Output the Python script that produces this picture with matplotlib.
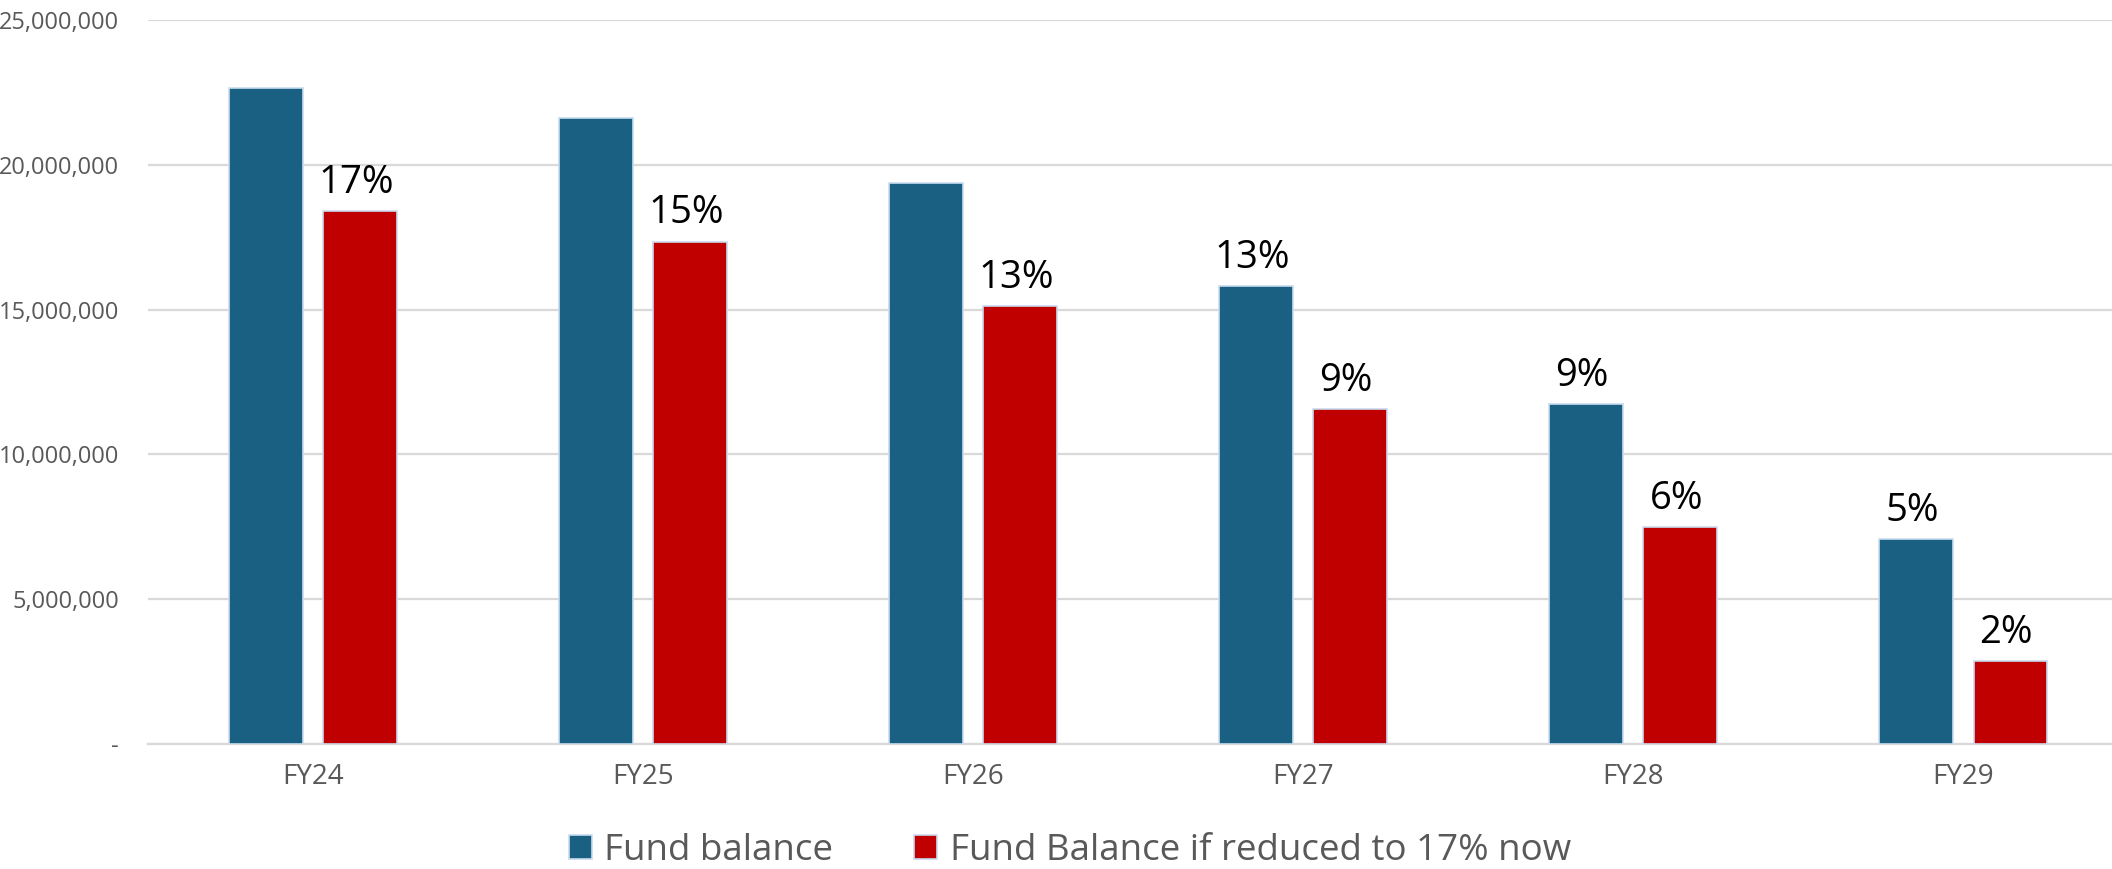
import matplotlib
matplotlib.use("Agg")
import matplotlib.pyplot as plt
from matplotlib.ticker import FuncFormatter
import numpy as np

plt.rcParams['font.family'] = ['Open Sans', 'DejaVu Sans']

# data
years = ['FY24', 'FY25', 'FY26', 'FY27', 'FY28', 'FY29']
fund_balance = [22660000, 21600000, 19360000, 15810000, 11740000, 7090000]
fund_reduced = [18420000, 17350000, 15120000, 11580000, 7480000, 2870000]
blue_labels = ['', '', '', '13%', '9%', '5%']
red_labels = ['17%', '15%', '13%', '9%', '6%', '2%']
legend_names = ['Fund balance', 'Fund Balance if reduced to 17% now']

blue = '#1A6083'
red = '#C00000'
edge = '#C9DCEF'
grid = '#D9D9D9'
txt = '#595959'

fig = plt.figure(figsize=(21.12, 8.69), dpi=100)
ax = fig.add_axes([148 / 2112, 1 - 744 / 869, 1 - 148 / 2112, (744 - 20) / 869])

x = np.arange(len(years))
w = 0.224
off = 0.1425
b1 = ax.bar(x - off, fund_balance, w, color=blue, edgecolor=edge, linewidth=1.2,
            label=legend_names[0], zorder=3)
b2 = ax.bar(x + off, fund_reduced, w, color=red, edgecolor=edge, linewidth=1.2,
            label=legend_names[1], zorder=3)

for bars, labels in ((b1, blue_labels), (b2, red_labels)):
    for rect, lab in zip(bars, labels):
        if not lab:
            continue
        ax.annotate(lab, (rect.get_x() + rect.get_width() / 2, rect.get_height()),
                    xytext=(-3, 13), textcoords='offset points',
                    ha='center', va='baseline', fontsize=27.5, color='black')

ax.set_xlim(-0.5, 5.45)
ax.set_ylim(0, 25000000)
ax.set_yticks(np.arange(0, 25000001, 5000000))
ax.yaxis.set_major_formatter(FuncFormatter(lambda v, p: '-' if v == 0 else f'{v:,.0f}'))
ax.set_xticks(x)
ax.set_xticklabels(years)

ax.grid(axis='y', color=grid, linewidth=1.6, zorder=0)
ax.set_axisbelow(True)
for s in ['top', 'right', 'left']:
    ax.spines[s].set_visible(False)
ax.spines['bottom'].set_color(grid)
ax.spines['bottom'].set_linewidth(1.6)

ax.tick_params(axis='y', length=0, pad=21, labelsize=17, labelcolor=txt)
ax.tick_params(axis='x', length=0, pad=14, labelsize=20, labelcolor=txt)

leg = fig.legend(loc='center', bbox_to_anchor=(1070 / 2112, 1 - 851 / 869), ncol=2,
                 frameon=False, fontsize=26.5, handlelength=0.62, handleheight=0.62,
                 handletextpad=0.35, columnspacing=2.2)
for t in leg.get_texts():
    t.set_color(txt)

fig.savefig('out.png', dpi=100)
